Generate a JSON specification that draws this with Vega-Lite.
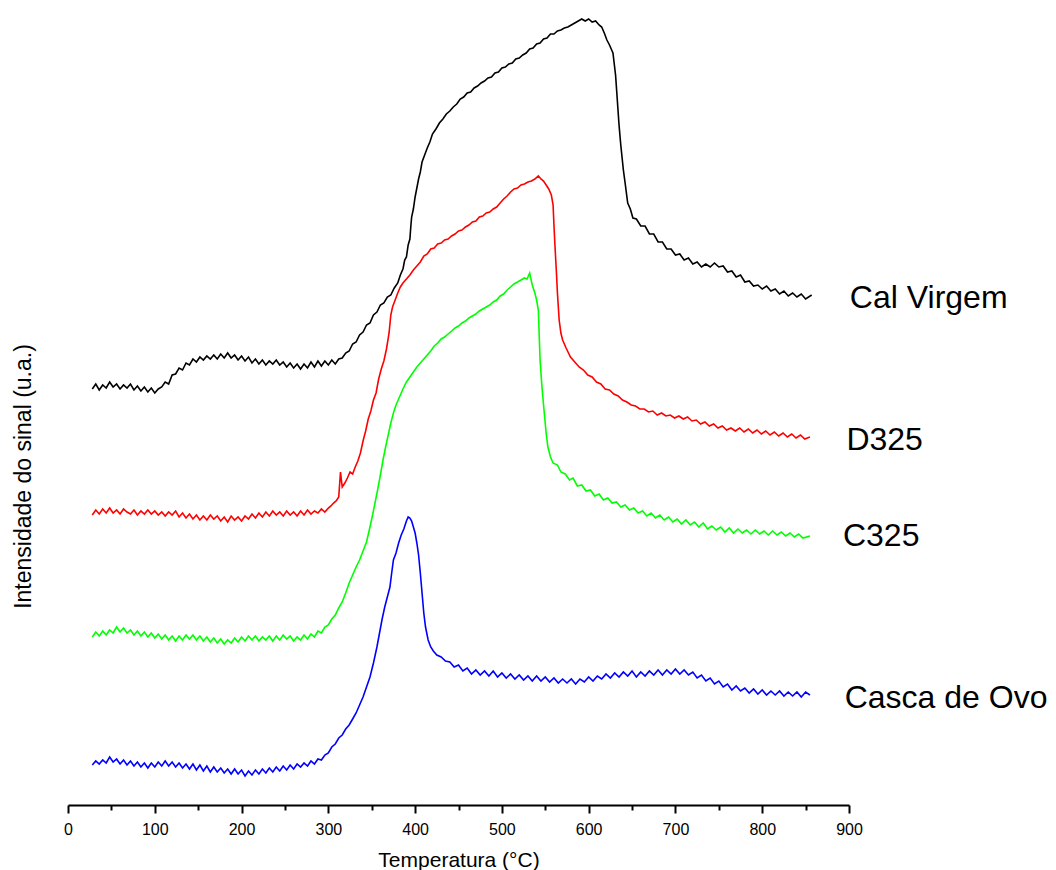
{
  "$schema": "https://vega.github.io/schema/vega-lite/v6.json",
  "autosize": {"type": "none"},
  "padding": {"left": 68, "top": 0, "right": 207, "bottom": 65},
  "width": 781,
  "height": 805,
  "background": "white",
  "config": {"view": {"stroke": null}, "font": "Liberation Sans"},
  "datasets": {
    "cal": [
      {"T":28,"I":416},{"T":32,"I":421},{"T":36,"I":415},{"T":40,"I":420},{"T":44,"I":417},{"T":48,"I":423},{"T":52,"I":418},{"T":56,"I":421},{"T":60,"I":416},{"T":64,"I":420},{"T":68,"I":417},{"T":72,"I":421},{"T":76,"I":415},{"T":80,"I":419},{"T":84,"I":414},{"T":88,"I":418},{"T":92,"I":413},{"T":96,"I":417},{"T":100,"I":412},{"T":104,"I":416},{"T":108,"I":418},{"T":112,"I":423},{"T":116,"I":421},{"T":120,"I":430},{"T":124,"I":431},{"T":128,"I":437},{"T":132,"I":435},{"T":136,"I":442},{"T":140,"I":440},{"T":144,"I":446},{"T":148,"I":443},{"T":152,"I":448},{"T":156,"I":445},{"T":160,"I":449},{"T":164,"I":446},{"T":168,"I":450},{"T":172,"I":446},{"T":176,"I":451},{"T":180,"I":447},{"T":184,"I":452},{"T":188,"I":447},{"T":192,"I":450},{"T":196,"I":445},{"T":200,"I":449},{"T":204,"I":444},{"T":208,"I":448},{"T":212,"I":442},{"T":216,"I":446},{"T":220,"I":441},{"T":224,"I":445},{"T":228,"I":440},{"T":232,"I":444},{"T":236,"I":441},{"T":240,"I":445},{"T":244,"I":440},{"T":248,"I":443},{"T":252,"I":438},{"T":256,"I":442},{"T":260,"I":437},{"T":264,"I":441},{"T":268,"I":436},{"T":272,"I":441},{"T":276,"I":437},{"T":280,"I":443},{"T":284,"I":438},{"T":288,"I":444},{"T":292,"I":439},{"T":296,"I":444},{"T":300,"I":440},{"T":304,"I":445},{"T":308,"I":441},{"T":312,"I":446},{"T":316,"I":447},{"T":320,"I":452},{"T":324,"I":454},{"T":328,"I":461},{"T":332,"I":463},{"T":336,"I":470},{"T":340,"I":473},{"T":344,"I":480},{"T":348,"I":482},{"T":352,"I":490},{"T":356,"I":493},{"T":360,"I":500},{"T":364,"I":502},{"T":368,"I":508},{"T":372,"I":510},{"T":376,"I":517},{"T":380,"I":522},{"T":383,"I":530},{"T":386,"I":536},{"T":388,"I":545},{"T":390,"I":548},{"T":392,"I":560},{"T":394,"I":566},{"T":395,"I":578},{"T":396,"I":588},{"T":398,"I":596},{"T":400,"I":608},{"T":402,"I":617},{"T":404,"I":626},{"T":406,"I":633},{"T":408,"I":643},{"T":411,"I":650},{"T":414,"I":657},{"T":417,"I":663},{"T":420,"I":671},{"T":424,"I":676},{"T":428,"I":682},{"T":432,"I":686},{"T":436,"I":691},{"T":440,"I":694},{"T":444,"I":698},{"T":448,"I":701},{"T":452,"I":706},{"T":456,"I":708},{"T":460,"I":712},{"T":464,"I":713},{"T":468,"I":717},{"T":472,"I":719},{"T":476,"I":722},{"T":480,"I":724},{"T":484,"I":727},{"T":488,"I":728},{"T":492,"I":732},{"T":496,"I":733},{"T":500,"I":737},{"T":504,"I":738},{"T":508,"I":741},{"T":512,"I":742},{"T":516,"I":746},{"T":520,"I":747},{"T":524,"I":750},{"T":528,"I":752},{"T":532,"I":756},{"T":536,"I":757},{"T":540,"I":761},{"T":544,"I":762},{"T":548,"I":766},{"T":552,"I":767},{"T":556,"I":771},{"T":560,"I":771},{"T":564,"I":774},{"T":568,"I":775},{"T":572,"I":777},{"T":576,"I":778},{"T":580,"I":780},{"T":584,"I":782},{"T":588,"I":784},{"T":592,"I":786},{"T":596,"I":784},{"T":600,"I":786},{"T":604,"I":783},{"T":608,"I":784},{"T":612,"I":780},{"T":615,"I":778},{"T":618,"I":772},{"T":621,"I":765},{"T":624,"I":760},{"T":628,"I":752},{"T":631,"I":730},{"T":633,"I":705},{"T":635,"I":680},{"T":637,"I":660},{"T":640,"I":635},{"T":642,"I":622},{"T":645,"I":602},{"T":648,"I":596},{"T":651,"I":587},{"T":655,"I":586},{"T":660,"I":579},{"T":665,"I":579},{"T":670,"I":571},{"T":675,"I":571},{"T":680,"I":563},{"T":685,"I":563},{"T":690,"I":556},{"T":695,"I":556},{"T":700,"I":550},{"T":705,"I":551},{"T":710,"I":545},{"T":715,"I":547},{"T":720,"I":541},{"T":725,"I":543},{"T":730,"I":538},{"T":735,"I":541},{"T":740,"I":538},{"T":745,"I":542},{"T":750,"I":538},{"T":755,"I":539},{"T":760,"I":533},{"T":765,"I":534},{"T":770,"I":528},{"T":775,"I":530},{"T":780,"I":523},{"T":785,"I":524},{"T":790,"I":519},{"T":795,"I":520},{"T":800,"I":516},{"T":805,"I":519},{"T":810,"I":514},{"T":815,"I":516},{"T":820,"I":511},{"T":825,"I":514},{"T":830,"I":509},{"T":835,"I":512},{"T":840,"I":508},{"T":845,"I":511},{"T":850,"I":506},{"T":857,"I":510}
    ],
    "d325": [
      {"T":28,"I":290},{"T":32,"I":295},{"T":36,"I":291},{"T":40,"I":296},{"T":44,"I":292},{"T":48,"I":297},{"T":52,"I":292},{"T":56,"I":295},{"T":60,"I":291},{"T":64,"I":296},{"T":68,"I":293},{"T":72,"I":291},{"T":76,"I":295},{"T":80,"I":290},{"T":84,"I":294},{"T":88,"I":291},{"T":92,"I":295},{"T":96,"I":291},{"T":100,"I":294},{"T":104,"I":290},{"T":108,"I":293},{"T":112,"I":289},{"T":116,"I":293},{"T":120,"I":290},{"T":124,"I":294},{"T":128,"I":288},{"T":132,"I":292},{"T":136,"I":287},{"T":140,"I":291},{"T":144,"I":286},{"T":148,"I":290},{"T":152,"I":285},{"T":156,"I":289},{"T":160,"I":285},{"T":164,"I":290},{"T":168,"I":286},{"T":172,"I":289},{"T":176,"I":284},{"T":180,"I":288},{"T":184,"I":283},{"T":188,"I":289},{"T":192,"I":285},{"T":196,"I":288},{"T":200,"I":284},{"T":204,"I":289},{"T":208,"I":286},{"T":212,"I":291},{"T":216,"I":287},{"T":220,"I":292},{"T":224,"I":288},{"T":228,"I":293},{"T":232,"I":289},{"T":236,"I":294},{"T":240,"I":290},{"T":244,"I":293},{"T":248,"I":289},{"T":252,"I":294},{"T":256,"I":290},{"T":260,"I":293},{"T":264,"I":289},{"T":268,"I":294},{"T":272,"I":290},{"T":276,"I":295},{"T":280,"I":291},{"T":284,"I":294},{"T":288,"I":292},{"T":292,"I":296},{"T":296,"I":293},{"T":300,"I":297},{"T":303,"I":299},{"T":306,"I":302},{"T":309,"I":304},{"T":312,"I":308},{"T":314,"I":333},{"T":316,"I":318},{"T":319,"I":322},{"T":322,"I":327},{"T":325,"I":333},{"T":328,"I":331},{"T":331,"I":338},{"T":334,"I":344},{"T":337,"I":352},{"T":340,"I":364},{"T":343,"I":374},{"T":346,"I":386},{"T":349,"I":394},{"T":352,"I":405},{"T":355,"I":412},{"T":358,"I":426},{"T":361,"I":436},{"T":364,"I":444},{"T":367,"I":456},{"T":370,"I":472},{"T":372,"I":490},{"T":374,"I":498},{"T":377,"I":505},{"T":380,"I":512},{"T":383,"I":518},{"T":386,"I":522},{"T":390,"I":526},{"T":394,"I":530},{"T":398,"I":535},{"T":402,"I":539},{"T":406,"I":543},{"T":410,"I":549},{"T":414,"I":551},{"T":418,"I":556},{"T":422,"I":557},{"T":426,"I":561},{"T":430,"I":562},{"T":434,"I":565},{"T":438,"I":566},{"T":442,"I":569},{"T":446,"I":571},{"T":450,"I":574},{"T":454,"I":575},{"T":458,"I":578},{"T":462,"I":580},{"T":466,"I":583},{"T":470,"I":584},{"T":474,"I":588},{"T":478,"I":589},{"T":482,"I":592},{"T":486,"I":593},{"T":490,"I":596},{"T":494,"I":598},{"T":498,"I":602},{"T":502,"I":606},{"T":506,"I":609},{"T":510,"I":613},{"T":514,"I":616},{"T":518,"I":617},{"T":522,"I":620},{"T":526,"I":621},{"T":530,"I":623},{"T":534,"I":624},{"T":538,"I":626},{"T":542,"I":629},{"T":545,"I":626},{"T":548,"I":624},{"T":551,"I":620},{"T":554,"I":616},{"T":557,"I":610},{"T":559,"I":600},{"T":560,"I":580},{"T":561,"I":562},{"T":563,"I":530},{"T":564,"I":512},{"T":566,"I":485},{"T":568,"I":472},{"T":570,"I":465},{"T":574,"I":457},{"T":579,"I":448},{"T":584,"I":443},{"T":589,"I":438},{"T":594,"I":435},{"T":599,"I":430},{"T":604,"I":428},{"T":609,"I":423},{"T":614,"I":421},{"T":619,"I":416},{"T":624,"I":415},{"T":629,"I":411},{"T":634,"I":409},{"T":639,"I":405},{"T":644,"I":403},{"T":649,"I":400},{"T":654,"I":399},{"T":659,"I":396},{"T":664,"I":396},{"T":669,"I":393},{"T":674,"I":394},{"T":679,"I":390},{"T":684,"I":392},{"T":689,"I":389},{"T":694,"I":390},{"T":699,"I":387},{"T":704,"I":389},{"T":709,"I":386},{"T":714,"I":388},{"T":719,"I":384},{"T":724,"I":385},{"T":729,"I":381},{"T":734,"I":383},{"T":739,"I":379},{"T":744,"I":381},{"T":749,"I":377},{"T":754,"I":379},{"T":759,"I":375},{"T":764,"I":377},{"T":769,"I":374},{"T":774,"I":377},{"T":779,"I":373},{"T":784,"I":376},{"T":789,"I":372},{"T":794,"I":375},{"T":799,"I":371},{"T":804,"I":374},{"T":809,"I":370},{"T":814,"I":373},{"T":819,"I":369},{"T":824,"I":372},{"T":829,"I":368},{"T":834,"I":371},{"T":839,"I":367},{"T":844,"I":370},{"T":849,"I":366},{"T":855,"I":368}
    ],
    "c325": [
      {"T":28,"I":168},{"T":32,"I":173},{"T":36,"I":169},{"T":40,"I":174},{"T":44,"I":170},{"T":48,"I":175},{"T":52,"I":172},{"T":56,"I":178},{"T":60,"I":173},{"T":64,"I":177},{"T":68,"I":172},{"T":72,"I":175},{"T":76,"I":170},{"T":80,"I":174},{"T":84,"I":169},{"T":88,"I":173},{"T":92,"I":168},{"T":96,"I":172},{"T":100,"I":167},{"T":104,"I":171},{"T":108,"I":166},{"T":112,"I":170},{"T":116,"I":165},{"T":120,"I":169},{"T":124,"I":164},{"T":128,"I":169},{"T":132,"I":165},{"T":136,"I":170},{"T":140,"I":166},{"T":144,"I":170},{"T":148,"I":165},{"T":152,"I":169},{"T":156,"I":164},{"T":160,"I":168},{"T":164,"I":163},{"T":168,"I":167},{"T":172,"I":162},{"T":176,"I":166},{"T":180,"I":161},{"T":184,"I":165},{"T":188,"I":162},{"T":192,"I":167},{"T":196,"I":163},{"T":200,"I":168},{"T":204,"I":164},{"T":208,"I":169},{"T":212,"I":165},{"T":216,"I":169},{"T":220,"I":164},{"T":224,"I":168},{"T":228,"I":165},{"T":232,"I":169},{"T":236,"I":164},{"T":240,"I":169},{"T":244,"I":165},{"T":248,"I":170},{"T":252,"I":166},{"T":256,"I":169},{"T":260,"I":164},{"T":264,"I":168},{"T":268,"I":165},{"T":272,"I":170},{"T":276,"I":166},{"T":280,"I":171},{"T":284,"I":168},{"T":288,"I":174},{"T":292,"I":172},{"T":296,"I":178},{"T":300,"I":180},{"T":304,"I":186},{"T":308,"I":190},{"T":312,"I":197},{"T":316,"I":203},{"T":320,"I":212},{"T":324,"I":222},{"T":328,"I":230},{"T":332,"I":238},{"T":336,"I":245},{"T":340,"I":254},{"T":344,"I":263},{"T":348,"I":278},{"T":351,"I":290},{"T":354,"I":303},{"T":357,"I":316},{"T":360,"I":330},{"T":363,"I":345},{"T":366,"I":358},{"T":369,"I":370},{"T":372,"I":382},{"T":375,"I":392},{"T":378,"I":400},{"T":382,"I":408},{"T":386,"I":416},{"T":390,"I":423},{"T":394,"I":428},{"T":398,"I":433},{"T":402,"I":438},{"T":406,"I":442},{"T":410,"I":446},{"T":414,"I":450},{"T":418,"I":454},{"T":422,"I":459},{"T":426,"I":462},{"T":430,"I":466},{"T":434,"I":468},{"T":438,"I":471},{"T":442,"I":474},{"T":446,"I":477},{"T":450,"I":479},{"T":454,"I":482},{"T":458,"I":484},{"T":462,"I":487},{"T":466,"I":489},{"T":470,"I":491},{"T":474,"I":494},{"T":478,"I":496},{"T":482,"I":498},{"T":486,"I":500},{"T":490,"I":503},{"T":494,"I":505},{"T":498,"I":509},{"T":502,"I":511},{"T":506,"I":515},{"T":510,"I":518},{"T":514,"I":521},{"T":518,"I":523},{"T":522,"I":525},{"T":526,"I":527},{"T":529,"I":526},{"T":532,"I":532},{"T":535,"I":520},{"T":538,"I":512},{"T":540,"I":505},{"T":542,"I":495},{"T":543,"I":470},{"T":544,"I":445},{"T":546,"I":420},{"T":548,"I":400},{"T":551,"I":372},{"T":553,"I":358},{"T":556,"I":348},{"T":559,"I":342},{"T":564,"I":340},{"T":568,"I":333},{"T":573,"I":331},{"T":578,"I":325},{"T":582,"I":327},{"T":587,"I":319},{"T":592,"I":320},{"T":597,"I":314},{"T":602,"I":315},{"T":607,"I":309},{"T":612,"I":311},{"T":617,"I":305},{"T":622,"I":307},{"T":627,"I":302},{"T":632,"I":303},{"T":637,"I":298},{"T":642,"I":300},{"T":647,"I":295},{"T":652,"I":297},{"T":657,"I":292},{"T":662,"I":294},{"T":667,"I":289},{"T":672,"I":292},{"T":677,"I":287},{"T":682,"I":290},{"T":687,"I":285},{"T":692,"I":288},{"T":697,"I":283},{"T":702,"I":286},{"T":707,"I":281},{"T":712,"I":285},{"T":717,"I":280},{"T":722,"I":283},{"T":727,"I":278},{"T":732,"I":282},{"T":737,"I":276},{"T":742,"I":279},{"T":747,"I":275},{"T":752,"I":278},{"T":757,"I":273},{"T":762,"I":277},{"T":767,"I":272},{"T":772,"I":276},{"T":777,"I":272},{"T":782,"I":275},{"T":787,"I":271},{"T":792,"I":275},{"T":797,"I":271},{"T":802,"I":274},{"T":807,"I":270},{"T":812,"I":274},{"T":817,"I":270},{"T":822,"I":273},{"T":827,"I":269},{"T":832,"I":272},{"T":837,"I":268},{"T":842,"I":271},{"T":847,"I":267},{"T":855,"I":269}
    ],
    "ovo": [
      {"T":28,"I":40},{"T":32,"I":44},{"T":36,"I":41},{"T":40,"I":45},{"T":44,"I":42},{"T":48,"I":48},{"T":52,"I":43},{"T":56,"I":46},{"T":60,"I":41},{"T":64,"I":45},{"T":68,"I":40},{"T":72,"I":44},{"T":76,"I":39},{"T":80,"I":43},{"T":84,"I":38},{"T":88,"I":42},{"T":92,"I":37},{"T":96,"I":42},{"T":100,"I":38},{"T":104,"I":43},{"T":108,"I":39},{"T":112,"I":44},{"T":116,"I":39},{"T":120,"I":43},{"T":124,"I":38},{"T":128,"I":42},{"T":132,"I":37},{"T":136,"I":41},{"T":140,"I":36},{"T":144,"I":41},{"T":148,"I":35},{"T":152,"I":40},{"T":156,"I":34},{"T":160,"I":39},{"T":164,"I":33},{"T":168,"I":38},{"T":172,"I":33},{"T":176,"I":37},{"T":180,"I":32},{"T":184,"I":36},{"T":188,"I":31},{"T":192,"I":36},{"T":196,"I":31},{"T":200,"I":35},{"T":204,"I":29},{"T":208,"I":34},{"T":212,"I":30},{"T":216,"I":35},{"T":220,"I":31},{"T":224,"I":36},{"T":228,"I":32},{"T":232,"I":37},{"T":236,"I":33},{"T":240,"I":38},{"T":244,"I":34},{"T":248,"I":39},{"T":252,"I":35},{"T":256,"I":40},{"T":260,"I":36},{"T":264,"I":41},{"T":268,"I":38},{"T":272,"I":42},{"T":276,"I":39},{"T":280,"I":44},{"T":284,"I":41},{"T":288,"I":46},{"T":292,"I":45},{"T":296,"I":50},{"T":300,"I":52},{"T":304,"I":58},{"T":308,"I":61},{"T":312,"I":67},{"T":316,"I":70},{"T":320,"I":76},{"T":324,"I":80},{"T":328,"I":86},{"T":332,"I":92},{"T":336,"I":100},{"T":340,"I":108},{"T":344,"I":118},{"T":348,"I":128},{"T":352,"I":142},{"T":356,"I":158},{"T":359,"I":172},{"T":362,"I":186},{"T":365,"I":198},{"T":368,"I":208},{"T":371,"I":218},{"T":373,"I":232},{"T":375,"I":245},{"T":378,"I":252},{"T":381,"I":262},{"T":384,"I":270},{"T":387,"I":276},{"T":390,"I":284},{"T":392,"I":288},{"T":394,"I":287},{"T":396,"I":284},{"T":398,"I":278},{"T":400,"I":272},{"T":402,"I":262},{"T":404,"I":250},{"T":406,"I":232},{"T":408,"I":212},{"T":410,"I":192},{"T":412,"I":178},{"T":415,"I":165},{"T":418,"I":158},{"T":421,"I":154},{"T":425,"I":150},{"T":430,"I":148},{"T":435,"I":144},{"T":440,"I":143},{"T":445,"I":138},{"T":450,"I":140},{"T":455,"I":134},{"T":460,"I":137},{"T":465,"I":131},{"T":470,"I":135},{"T":475,"I":130},{"T":480,"I":134},{"T":485,"I":129},{"T":490,"I":134},{"T":495,"I":128},{"T":500,"I":132},{"T":505,"I":127},{"T":510,"I":131},{"T":515,"I":126},{"T":520,"I":130},{"T":525,"I":125},{"T":530,"I":129},{"T":535,"I":124},{"T":540,"I":129},{"T":545,"I":124},{"T":550,"I":128},{"T":555,"I":123},{"T":560,"I":127},{"T":565,"I":122},{"T":570,"I":126},{"T":575,"I":122},{"T":580,"I":126},{"T":585,"I":121},{"T":590,"I":126},{"T":595,"I":123},{"T":600,"I":128},{"T":605,"I":124},{"T":610,"I":129},{"T":615,"I":126},{"T":620,"I":131},{"T":625,"I":127},{"T":630,"I":132},{"T":635,"I":128},{"T":640,"I":133},{"T":645,"I":129},{"T":650,"I":134},{"T":655,"I":128},{"T":660,"I":133},{"T":665,"I":129},{"T":670,"I":134},{"T":675,"I":130},{"T":680,"I":135},{"T":685,"I":130},{"T":690,"I":135},{"T":695,"I":131},{"T":700,"I":136},{"T":705,"I":131},{"T":710,"I":135},{"T":715,"I":130},{"T":720,"I":133},{"T":725,"I":127},{"T":730,"I":130},{"T":735,"I":124},{"T":740,"I":127},{"T":745,"I":121},{"T":750,"I":124},{"T":755,"I":118},{"T":760,"I":121},{"T":765,"I":115},{"T":770,"I":119},{"T":775,"I":114},{"T":780,"I":117},{"T":785,"I":112},{"T":790,"I":116},{"T":795,"I":111},{"T":800,"I":115},{"T":805,"I":110},{"T":810,"I":114},{"T":815,"I":110},{"T":820,"I":114},{"T":825,"I":109},{"T":830,"I":113},{"T":835,"I":109},{"T":840,"I":113},{"T":845,"I":108},{"T":850,"I":113},{"T":855,"I":110}
    ],
    "labels": [
      {"T": 901, "I": 497, "s": "Cal Virgem"},
      {"T": 897, "I": 355, "s": "D325"},
      {"T": 893, "I": 259, "s": "C325"},
      {"T": 895, "I": 97, "s": "Casca de Ovo"}
    ]
  },
  "encoding": {
    "x": {
      "field": "T", "type": "quantitative",
      "scale": {"domain": [0, 900], "nice": false, "zero": false},
      "axis": {
        "title": "Temperatura (°C)",
        "values": [0, 50, 100, 150, 200, 250, 300, 350, 400, 450, 500, 550, 600, 650, 700, 750, 800, 850, 900],
        "labelExpr": "datum.value % 100 === 0 ? datum.label : ''",
        "format": "d",
        "grid": false,
        "domainColor": "black", "domainWidth": 2,
        "tickColor": "black", "tickWidth": 2,
        "tickSize": {"condition": {"test": "datum.value % 100 === 0", "value": 8}, "value": 5},
        "labelFont": "Liberation Sans", "labelFontSize": 16, "labelColor": "black", "labelPadding": 8,
        "labelOverlap": false, "labelFlush": false,
        "titleFont": "Liberation Sans", "titleFontSize": 21, "titleFontWeight": "normal", "titleColor": "black", "titlePadding": 12
      }
    },
    "y": {
      "field": "I", "type": "quantitative",
      "scale": {"domain": [0, 805], "nice": false, "zero": false},
      "axis": {
        "title": "Intensidade do sinal (u.a.)",
        "domain": false, "ticks": false, "labels": false, "grid": false,
        "titleFont": "Liberation Sans", "titleFontSize": 23, "titleFontWeight": "normal", "titleColor": "black",
        "titlePadding": 33, "titleY": 476
      }
    }
  },
  "layer": [
    {"data": {"name": "cal"}, "mark": {"type": "line", "color": "#000000", "strokeWidth": 1.6}, "encoding": {"order": {"field": "T", "type": "quantitative"}}},
    {"data": {"name": "d325"}, "mark": {"type": "line", "color": "#ff0000", "strokeWidth": 1.6}, "encoding": {"order": {"field": "T", "type": "quantitative"}}},
    {"data": {"name": "c325"}, "mark": {"type": "line", "color": "#00ff00", "strokeWidth": 1.6}, "encoding": {"order": {"field": "T", "type": "quantitative"}}},
    {"data": {"name": "ovo"}, "mark": {"type": "line", "color": "#0000ff", "strokeWidth": 1.6}, "encoding": {"order": {"field": "T", "type": "quantitative"}}},
    {
      "data": {"name": "labels"},
      "mark": {"type": "text", "align": "left", "baseline": "alphabetic", "font": "Liberation Sans", "fontSize": 32, "color": "black"},
      "encoding": {"text": {"field": "s"}}
    }
  ]
}
